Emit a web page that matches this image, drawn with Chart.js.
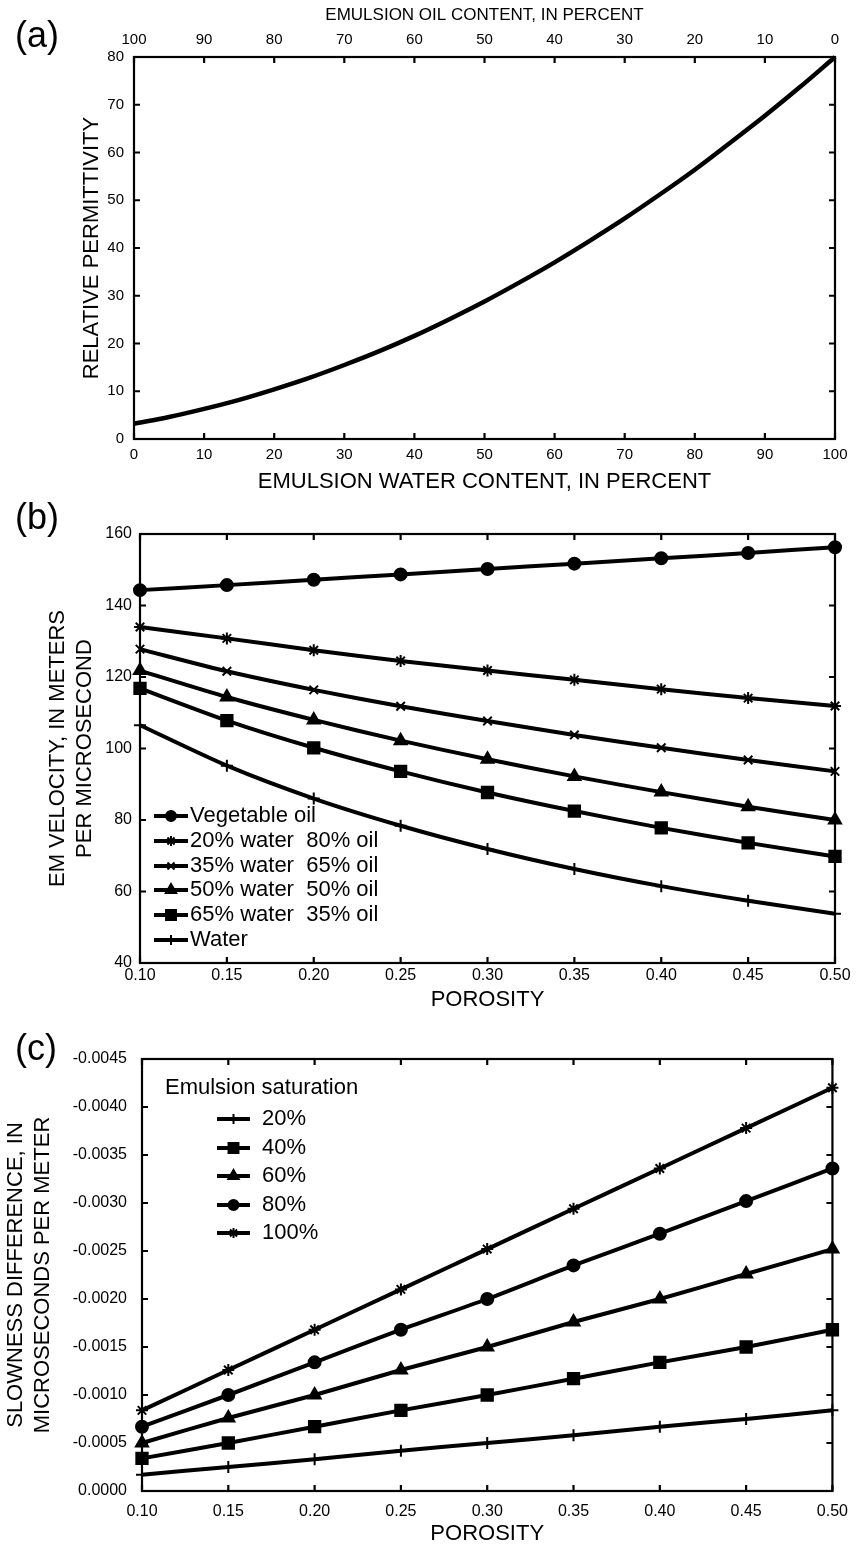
<!DOCTYPE html>
<html>
<head>
<meta charset="utf-8">
<script src="https://cdn.jsdelivr.net/npm/chart.js@4.4.1/dist/chart.umd.min.js"></script>
<style>
  body { margin: 0; background: #fff; }
  #wrap { position: relative; width: 859px; height: 1547px; font-family: "Liberation Sans", Arial, Helvetica, sans-serif; }
  canvas { position: absolute; left: 0; }
  .panel { position: absolute; left: 15px; font-size: 36px; line-height: 36px; color: #000; }
</style>
</head>
<body>
<div id="wrap">
  <canvas id="PERMITTIVITY_CHART" width="859" height="500" style="top:0px"></canvas>
  <canvas id="VELOCITY_CHART" width="859" height="520" style="top:500px"></canvas>
  <canvas id="SLOWNESS_CHART" width="859" height="527" style="top:1020px"></canvas>
  <div class="panel" style="top:17px">(a)</div>
  <div class="panel" style="top:499px">(b)</div>
  <div class="panel" style="top:1030px">(c)</div>
</div>
<script>
// (a) permittivity vs emulsion water content
const waterContent = [0, 5, 10, 15, 20, 25, 30, 35, 40, 45, 50, 55, 60, 65, 70, 75, 80, 85, 90, 95, 100];
const permittivity = [3.2, 4.6, 6.3, 8.2, 10.4, 12.8, 15.5, 18.4, 21.6, 25.1, 28.8, 32.8, 37.0, 41.5, 46.2, 51.2, 56.4, 62.0, 67.7, 73.7, 80.0];

// (b) EM velocity vs porosity
const porosity = [0.10, 0.15, 0.20, 0.25, 0.30, 0.35, 0.40, 0.45, 0.50];
const velocityLabels = ['Vegetable oil', '20% water  80% oil', '35% water  65% oil', '50% water  50% oil', '65% water  35% oil', 'Water'];
const vegetableOil = [144.3, 145.7, 147.2, 148.7, 150.2, 151.7, 153.2, 154.7, 156.3];
const water20oil80 = [134.0, 130.8, 127.5, 124.5, 121.8, 119.2, 116.6, 114.1, 111.9];
const water35oil65 = [127.8, 121.6, 116.4, 111.8, 107.7, 103.8, 100.2, 96.8, 93.6];
const water50oil50 = [121.8, 114.4, 108.0, 102.2, 97.0, 92.2, 87.8, 83.7, 80.0];
const water65oil35 = [116.8, 107.8, 100.2, 93.6, 87.7, 82.5, 77.8, 73.6, 69.8];
const pureWater = [106.5, 95.2, 86.0, 78.4, 71.9, 66.3, 61.5, 57.4, 53.8];

// (c) slowness difference vs porosity
const saturationLabels = ['20%', '40%', '60%', '80%', '100%'];
const sat20 = [-0.00017, -0.00025, -0.00033, -0.00042, -0.00050, -0.00058, -0.00067, -0.00075, -0.00084];
const sat40 = [-0.00034, -0.00050, -0.00067, -0.00084, -0.00100, -0.00117, -0.00134, -0.00150, -0.00168];
const sat60 = [-0.00050, -0.00076, -0.00100, -0.00126, -0.00150, -0.00176, -0.00200, -0.00226, -0.00252];
const sat80 = [-0.00067, -0.00100, -0.00134, -0.00168, -0.00200, -0.00235, -0.00268, -0.00302, -0.00336];
const sat100 = [-0.00084, -0.00126, -0.00168, -0.00210, -0.00252, -0.00294, -0.00336, -0.00378, -0.00420];

const FONT = '"Liberation Sans", Arial, Helvetica, sans-serif';
const tickFont = { family: FONT, size: 15 };
const tickFontBig = { family: FONT, size: 16 };
const titleFont = { family: FONT, size: 22, lineHeight: 1.2 };

function pts(xs, ys) {
    return xs.map((x, i) => ({ x: x, y: ys[i] }));
}

// box round the plot area with inward tick marks on every side
const frameTicks = {
    id: 'frameTicks',
    afterDraw(chart) {
        const { ctx, chartArea: a, scales } = chart;
        const len = 6;
        ctx.save();
        ctx.strokeStyle = '#000';
        ctx.lineWidth = 2.2;
        ctx.strokeRect(a.left, a.top, a.right - a.left, a.bottom - a.top);
        ctx.beginPath();
        scales.x.ticks.forEach((t, i) => {
            const px = scales.x.getPixelForTick(i);
            ctx.moveTo(px, a.bottom); ctx.lineTo(px, a.bottom - len);
            ctx.moveTo(px, a.top); ctx.lineTo(px, a.top + len);
        });
        scales.y.ticks.forEach((t, i) => {
            const py = scales.y.getPixelForTick(i);
            ctx.moveTo(a.left, py); ctx.lineTo(a.left + len, py);
            ctx.moveTo(a.right, py); ctx.lineTo(a.right - len, py);
        });
        ctx.stroke();
        ctx.restore();
    }
};

// legend drawn inside the plot: short line, marker, text
const insideLegend = {
    id: 'insideLegend',
    afterDraw(chart, args, opts) {
        if (!opts || !opts.rows) return;
        const ctx = chart.ctx;
        ctx.save();
        ctx.font = opts.font;
        ctx.textBaseline = 'middle';
        ctx.fillStyle = '#000';
        ctx.strokeStyle = '#000';
        if (opts.title) ctx.fillText(opts.title, opts.titleX, opts.titleY);
        chart.data.datasets.forEach((ds, i) => {
            const y = opts.rows[i];
            ctx.lineWidth = 4;
            ctx.beginPath();
            ctx.moveTo(opts.x0, y);
            ctx.lineTo(opts.x1, y);
            ctx.stroke();
            ctx.lineWidth = ds.pointBorderWidth;
            Chart.helpers.drawPoint(ctx, {
                pointStyle: ds.pointStyle,
                radius: ds.pointRadius - 1,
                borderWidth: ds.pointBorderWidth,
                rotation: 0
            }, (opts.x0 + opts.x1) / 2, y);
            ctx.fillText(ds.label, opts.textX, y);
        });
        ctx.restore();
    }
};

function markerSet(label, data, style) {
    const radius = { circle: 6, rect: 8, triangle: 7, star: 6, crossRot: 6, cross: 6 }[style];
    return {
        label: label,
        data: data,
        borderColor: '#000',
        backgroundColor: '#000',
        borderWidth: 4,
        pointStyle: style,
        pointRadius: radius,
        pointHoverRadius: radius,
        pointBorderWidth: 2,
        pointBackgroundColor: '#000',
        pointBorderColor: '#000',
        tension: 0.25,
        clip: false
    };
}

function axisBase(extra) {
    return Object.assign({
        type: 'linear',
        grid: { display: false, drawTicks: false },
        border: { display: false }
    }, extra);
}

let permittivityChart = null;
let velocityChart = null;
let slownessChart = null;

function createCharts() {
    permittivityChart = new Chart(document.getElementById('PERMITTIVITY_CHART').getContext('2d'), {
        type: 'line',
        data: {
            datasets: [{
                label: 'Relative permittivity',
                data: pts(waterContent, permittivity),
                borderColor: '#000',
                borderWidth: 4.5,
                pointRadius: 0,
                cubicInterpolationMode: 'monotone',
                clip: false
            }]
        },
        options: {
            responsive: false,
            animation: false,
            layout: { padding: { left: 0, right: 24, top: 0, bottom: 0 } },
            plugins: { legend: { display: false }, tooltip: { enabled: false } },
            scales: {
                x: axisBase({
                    position: 'bottom', min: 0, max: 100,
                    ticks: { stepSize: 10, font: tickFont, color: '#000', padding: 7, maxRotation: 0 },
                    title: { display: true, text: 'EMULSION WATER CONTENT, IN PERCENT', font: titleFont, color: '#000', padding: { top: 0, bottom: 5 } },
                    afterFit: s => { s.height = 61; }
                }),
                x2: axisBase({
                    position: 'top', min: 0, max: 100, reverse: true,
                    ticks: { stepSize: 10, font: tickFont, color: '#000', padding: 8, maxRotation: 0 },
                    title: { display: true, text: 'EMULSION OIL CONTENT, IN PERCENT', font: { family: FONT, size: 17, lineHeight: 1.2 }, color: '#000', padding: { top: 5, bottom: 0 } },
                    afterFit: s => { s.height = 57; }
                }),
                y: axisBase({
                    min: 0, max: 80,
                    ticks: { stepSize: 10, font: tickFont, color: '#000', padding: 10 },
                    title: { display: true, text: 'RELATIVE PERMITTIVITY', font: titleFont, color: '#000', padding: { top: 79, bottom: 0 } },
                    afterFit: s => { s.width = 134; }
                })
            }
        },
        plugins: [frameTicks]
    });

    velocityChart = new Chart(document.getElementById('VELOCITY_CHART').getContext('2d'), {
        type: 'line',
        data: {
            datasets: [
                markerSet(velocityLabels[0], pts(porosity, vegetableOil), 'circle'),
                markerSet(velocityLabels[1], pts(porosity, water20oil80), 'star'),
                markerSet(velocityLabels[2], pts(porosity, water35oil65), 'crossRot'),
                markerSet(velocityLabels[3], pts(porosity, water50oil50), 'triangle'),
                markerSet(velocityLabels[4], pts(porosity, water65oil35), 'rect'),
                markerSet(velocityLabels[5], pts(porosity, pureWater), 'cross')
            ]
        },
        options: {
            responsive: false,
            animation: false,
            layout: { padding: { left: 0, right: 24, top: 34, bottom: 0 } },
            plugins: {
                legend: { display: false },
                tooltip: { enabled: false },
                insideLegend: {
                    font: '22px ' + FONT,
                    rows: [316, 341, 366, 390, 415, 440],
                    x0: 154, x1: 188, textX: 190
                }
            },
            scales: {
                x: axisBase({
                    position: 'bottom', min: 0.10, max: 0.50,
                    ticks: { stepSize: 0.05, font: tickFontBig, color: '#000', padding: 3, maxRotation: 0, callback: v => v.toFixed(2) },
                    title: { display: true, text: 'POROSITY', font: titleFont, color: '#000', padding: { top: 0, bottom: 7 } },
                    afterFit: s => { s.height = 57; }
                }),
                y: axisBase({
                    min: 40, max: 160,
                    ticks: { stepSize: 20, font: tickFontBig, color: '#000', padding: 8 },
                    title: { display: true, text: ['EM VELOCITY, IN METERS', 'PER MICROSECOND'], font: titleFont, color: '#000', padding: { top: 45, bottom: 0 } },
                    afterFit: s => { s.width = 140; }
                })
            }
        },
        plugins: [frameTicks, insideLegend]
    });

    slownessChart = new Chart(document.getElementById('SLOWNESS_CHART').getContext('2d'), {
        type: 'line',
        data: {
            datasets: [
                markerSet(saturationLabels[0], pts(porosity, sat20), 'cross'),
                markerSet(saturationLabels[1], pts(porosity, sat40), 'rect'),
                markerSet(saturationLabels[2], pts(porosity, sat60), 'triangle'),
                markerSet(saturationLabels[3], pts(porosity, sat80), 'circle'),
                markerSet(saturationLabels[4], pts(porosity, sat100), 'star')
            ]
        },
        options: {
            responsive: false,
            animation: false,
            layout: { padding: { left: 0, right: 24, top: 39, bottom: 0 } },
            plugins: {
                legend: { display: false },
                tooltip: { enabled: false },
                insideLegend: {
                    font: '22px ' + FONT,
                    title: 'Emulsion saturation', titleX: 165, titleY: 68,
                    rows: [99, 128, 156, 185, 213],
                    x0: 217, x1: 250, textX: 262
                }
            },
            scales: {
                x: axisBase({
                    position: 'bottom', min: 0.10, max: 0.50,
                    ticks: { stepSize: 0.05, font: tickFontBig, color: '#000', padding: 11, maxRotation: 0, callback: v => v.toFixed(2) },
                    title: { display: true, text: 'POROSITY', font: titleFont, color: '#000', padding: { top: 0, bottom: 0 } },
                    afterFit: s => { s.height = 56; }
                }),
                y: axisBase({
                    min: -0.0045, max: 0, reverse: true,
                    ticks: { stepSize: 0.0005, font: tickFontBig, color: '#000', padding: 15, callback: v => Math.abs(v) < 1e-9 ? '0.0000' : v.toFixed(4) },
                    title: { display: true, text: ['SLOWNESS DIFFERENCE, IN', 'MICROSECONDS PER METER'], font: titleFont, color: '#000', padding: { top: 3, bottom: 0 } },
                    afterFit: s => { s.width = 142; }
                })
            }
        },
        plugins: [frameTicks, insideLegend]
    });
}

createCharts();
</script>
</body>
</html>
